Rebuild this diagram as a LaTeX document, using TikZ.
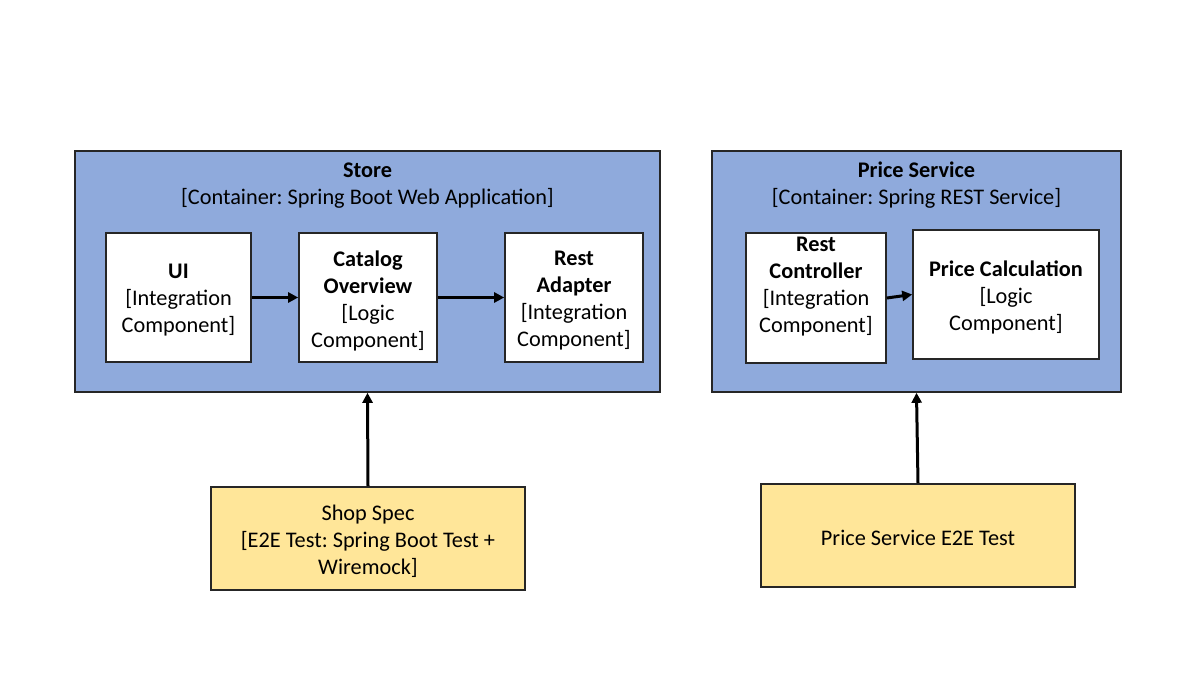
\documentclass[tikz,border=0pt]{standalone}
\usepackage{fontspec}
\setmainfont{Carlito}
\frenchspacing
\usetikzlibrary{arrows.meta}
\definecolor{contblue}{HTML}{8FAADC}
\definecolor{testyellow}{HTML}{FFE699}
\begin{document}
\begin{tikzpicture}[x=1pt,y=-1pt,
  container/.style={draw=black!85, line width=1.6pt, fill=contblue, rectangle, inner sep=0pt},
  comp/.style={draw=black!85, line width=1.6pt, fill=white, rectangle, inner sep=0pt},
  testbox/.style={draw=black!85, line width=1.6pt, fill=testyellow, rectangle, inner sep=0pt},
  txt/.style={align=center, inner sep=0pt, font=\fontsize{22.3}{27}\selectfont\frenchspacing},
  conn/.style={line width=3pt, -{Triangle[length=10pt,width=10pt]}}
]
\useasboundingbox (0,0) rectangle (1200,675);
% containers
\node[container, minimum width=585pt, minimum height=241pt] (store) at (367.5,271.5) {};
\node[container, minimum width=409pt, minimum height=241pt] (price) at (916.5,271.5) {};
\node[txt] (storeTitle) at (367.5,185.5) {\textbf{Store}\\\relax[Container: Spring Boot Web Application]};
\node[txt] (priceTitle) at (916.5,185.5) {\textbf{Price Service}\\\relax[Container: Spring REST Service]};
% components
\node[comp, minimum width=145pt, minimum height=129pt] (ui) at (178.5,297.5) {};
\node[txt] (uiText) at (178.5,300) {\textbf{UI}\\\relax[Integration\\Component]};
\node[comp, minimum width=138pt, minimum height=129pt] (cat) at (368,297.5) {};
\node[txt] (catText) at (368,300.5) {\textbf{Catalog}\\\textbf{Overview}\\\relax[Logic\\Component]};
\node[comp, minimum width=138pt, minimum height=129pt] (ra) at (574,297.5) {};
\node[txt] (raText) at (574,300.5) {\textbf{Rest}\\\textbf{Adapter}\\\relax[Integration\\Component]};
\node[comp, minimum width=140pt, minimum height=130pt] (rc) at (816,298) {};
\node[txt] (rcText) at (816,286.5) {\textbf{Rest}\\\textbf{Controller}\\\relax[Integration\\Component]};
\node[comp, minimum width=186pt, minimum height=129pt] (pc) at (1006,294.5) {};
\node[txt] (pcText) at (1006,297) {\textbf{Price Calculation}\\\relax[Logic\\Component]};
% tests
\node[testbox, minimum width=314pt, minimum height=103pt] (shop) at (368,538.5) {};
\node[txt] (shopText) at (368,541) {Shop Spec\\\relax[E2E Test: Spring Boot Test +\\Wiremock]};
\node[testbox, minimum width=314pt, minimum height=103pt] (pe2e) at (918,535.5) {};
\node[txt] (pe2eText) at (918,537.5) {Price Service E2E Test};
% connectors
\draw[conn] (ui.east) -- (cat.west);
\draw[conn] (cat.east) -- (ra.west);
\draw[conn] (rc.east) -- (pc.west);
\draw[conn] (shop.north) -- (store.south);
\draw[conn] (pe2e.north) -- (price.south);
\end{tikzpicture}
\end{document}
